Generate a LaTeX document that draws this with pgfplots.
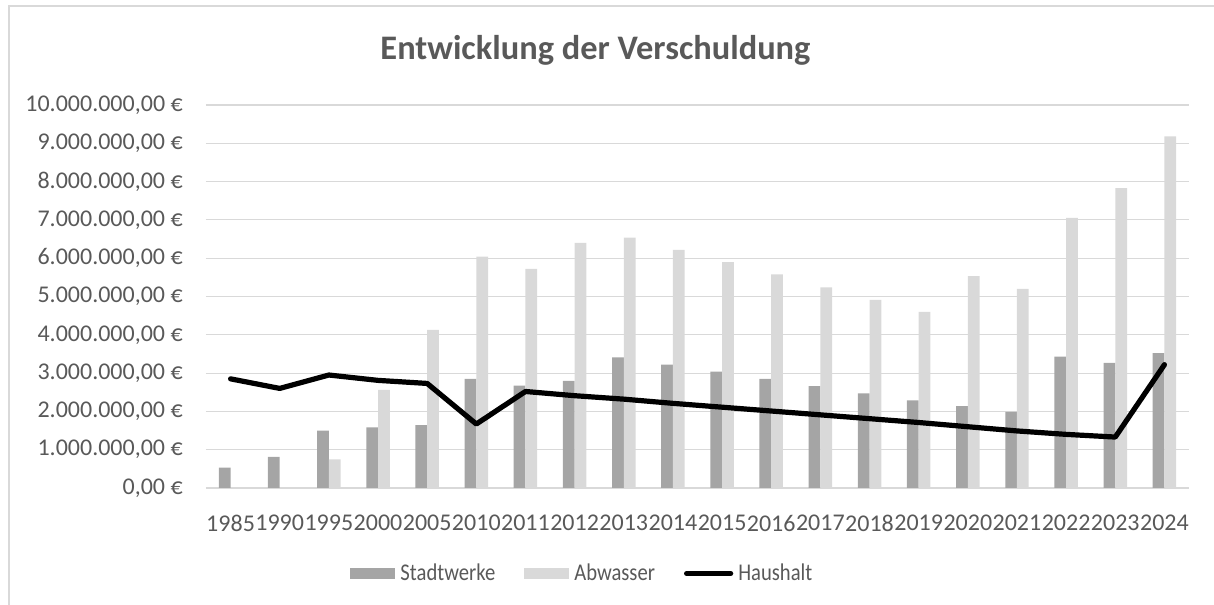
\documentclass[border=0pt]{standalone}
\usepackage{fontspec}
\setmainfont{Carlito}
\newfontfamily\legfont[FakeStretch=0.86]{Carlito}
\usepackage{pgfplots}
\pgfplotsset{compat=1.18}
\definecolor{txt}{HTML}{595959}
\definecolor{gridc}{HTML}{D9D9D9}
\definecolor{swc}{HTML}{A5A5A5}
\definecolor{awc}{HTML}{D9D9D9}
\begin{document}
\begin{tikzpicture}
\useasboundingbox (0pt,0pt) rectangle (910.5pt,-453.75pt);
\begin{scope}
\clip (0pt,0pt) rectangle (910.5pt,-453.75pt);
\draw[gridc, line width=1.1pt] (6.75pt,-4.5pt) rectangle (1000pt,-600pt);
\end{scope}
\begin{axis}[
  at={(154.5pt,-366pt)}, anchor=south west,
  scale only axis, width=737.25pt, height=287.25pt,
  xmin=-0.5, xmax=19.5, ymin=0, ymax=10000000,
  xtick={0,...,19},
  xticklabels={1985,1990,1995,2000,2005,2010,2011,2012,2013,2014,2015,2016,2017,2018,2019,2020,2021,2022,2023,2024},
  ytick={0,1000000,2000000,3000000,4000000,5000000,6000000,7000000,8000000,9000000,10000000},
  yticklabels={{0,00 €},{1.000.000,00 €},{2.000.000,00 €},{3.000.000,00 €},{4.000.000,00 €},{5.000.000,00 €},{6.000.000,00 €},{7.000.000,00 €},{8.000.000,00 €},{9.000.000,00 €},{10.000.000,00 €}},
  scaled y ticks=false,
  major tick length=0pt,
  ymajorgrids, grid style={gridc, line width=0.8pt},
  axis x line*=bottom, axis y line*=left,
  x axis line style={gridc, line width=0.8pt, -},
  y axis line style={draw=none},
  xticklabel style={font=\fontsize{18}{21.6}\selectfont, text=txt, inner sep=0pt, anchor=center, yshift=-26.25pt},
  yticklabel style={font=\fontsize{18}{21.6}\selectfont, text=txt, inner sep=0pt, anchor=east, xshift=-17.25pt},
  title={Entwicklung der Verschuldung},
  every axis title shift=0pt,
  title style={font=\bfseries\fontsize{25.8}{30}\selectfont, text=txt, at={(axis description cs:0.3962,1.1188)}, anchor=base, inner sep=0pt},
  legend columns=3,
  legend style={at={(axis description cs:0.3819,-0.2232)}, anchor=center, draw=none, fill=none,
    font=\legfont\fontsize{18}{21.6}\selectfont, text=txt, inner sep=0pt,
    nodes={inner sep=0pt},
    /tikz/every odd column/.style={column sep=3.75pt},
    /tikz/every even column/.style={column sep=21.75pt}},
]
\addplot[ybar, bar width=8.8pt, bar shift=-4.4pt, fill=swc, draw=none,
  legend image code/.code={\fill[swc] (0pt,-4.125pt) rectangle (33.75pt,4.125pt);}]
  coordinates {(0,530000) (1,810000) (2,1500000) (3,1580000) (4,1640000) (5,2850000) (6,2670000) (7,2800000) (8,3410000) (9,3220000) (10,3040000) (11,2850000) (12,2660000) (13,2470000) (14,2290000) (15,2140000) (16,1990000) (17,3430000) (18,3270000) (19,3520000)};
\addlegendentry{Stadtwerke}
\addplot[ybar, bar width=8.8pt, bar shift=4.4pt, fill=awc, draw=none,
  legend image code/.code={\fill[awc] (0pt,-4.125pt) rectangle (33.75pt,4.125pt);}]
  coordinates {(0,0) (1,0) (2,750000) (3,2560000) (4,4130000) (5,6040000) (6,5720000) (7,6400000) (8,6540000) (9,6220000) (10,5900000) (11,5580000) (12,5240000) (13,4910000) (14,4600000) (15,5530000) (16,5200000) (17,7050000) (18,7830000) (19,9180000)};
\addlegendentry{Abwasser}
\addplot[black, line width=3.9pt, line join=round, line cap=round, mark=none,
  legend image code/.code={\draw[black, line width=3.9pt, line cap=round] (1.95pt,0pt) -- (35pt,0pt);}]
  coordinates {(0,2850000) (1,2600000) (2,2950000) (3,2810000) (4,2730000) (5,1670000) (6,2520000) (7,2410000) (8,2320000) (9,2210000) (10,2110000) (11,2010000) (12,1910000) (13,1810000) (14,1710000) (15,1600000) (16,1490000) (17,1400000) (18,1330000) (19,3220000)};
\addlegendentry{Haushalt}
\end{axis}
\end{tikzpicture}
\end{document}
